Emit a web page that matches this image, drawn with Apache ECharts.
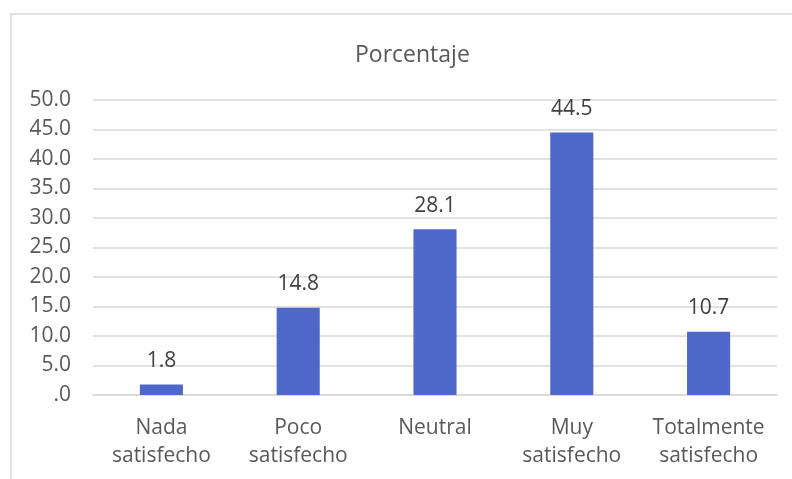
<!DOCTYPE html>
<html>
<head>
<meta charset="utf-8">
<script src="https://cdn.jsdelivr.net/npm/echarts@6/dist/echarts.min.js"></script>
<style>
  html, body { margin: 0; padding: 0; background: #fff; }
  #chart { width: 792px; height: 479px; }
</style>
</head>
<body>
<div id="chart"></div>
<script>
// Satisfaction levels and their share (%)
const categories = ['Nada\nsatisfecho', 'Poco\nsatisfecho', 'Neutral', 'Muy\nsatisfecho', 'Totalmente\nsatisfecho'];
const porcentaje = [1.8, 14.8, 28.1, 44.5, 10.7];
const yTicks = { min: 0, max: 50, interval: 5 };

const FONT = 'Open Sans, Liberation Sans, sans-serif';
const chart = echarts.init(document.getElementById('chart'));

chart.setOption({
  animation: false,
  backgroundColor: '#fff',
  graphic: [{
    type: 'rect',
    shape: { x: 11, y: 14, width: 820, height: 520 },
    style: { fill: 'none', stroke: '#d9d9d9', lineWidth: 1.5 },
    silent: true
  }],
  title: {
    text: 'Porcentaje',
    left: 350,
    top: 39,
    textStyle: { fontFamily: FONT, fontSize: 23, fontWeight: 'normal', color: '#595959' }
  },
  grid: { left: 93, right: 15, top: 100, bottom: 84 },
  xAxis: {
    type: 'category',
    data: categories,
    axisLine: { lineStyle: { color: '#d9d9d9', width: 1.5 } },
    axisTick: { show: false },
    axisLabel: {
      interval: 0, hideOverlap: false,
      fontFamily: FONT, fontSize: 21, color: '#595959', lineHeight: 28, margin: 19
    }
  },
  yAxis: {
    type: 'value',
    min: yTicks.min,
    max: yTicks.max,
    interval: yTicks.interval,
    axisLine: { show: false },
    axisTick: { show: false },
    splitLine: { lineStyle: { color: '#d9d9d9', width: 1.5 } },
    axisLabel: {
      fontFamily: FONT, fontSize: 21, color: '#595959', margin: 22,
      formatter: v => v === 0 ? '.0' : v.toFixed(1)
    }
  },
  series: [{
    type: 'bar',
    data: porcentaje,
    barWidth: '31.5%',
    itemStyle: { color: '#4f67c8' },
    label: {
      show: true,
      position: 'top',
      distance: 13,
      fontFamily: FONT, fontSize: 21, color: '#404040',
      formatter: p => p.value.toFixed(1)
    }
  }]
});
</script>
</body>
</html>
